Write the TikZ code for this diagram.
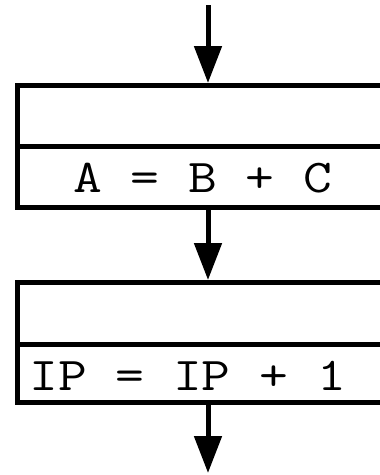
\documentclass[tikz,border=0pt]{standalone}
\usepackage{fontspec}
\setmonofont{Latin Modern Mono}[FakeStretch=1.19]
\usetikzlibrary{arrows.meta}
\begin{document}
\begin{tikzpicture}[x=1pt,y=-1pt,
  cell/.style={draw,line width=5pt,minimum width=420pt,inner sep=0pt,anchor=north west},
  flow/.style={line width=5pt,-{Triangle[width=27pt,length=37pt]}},
  code/.style={font=\ttfamily\fontsize{47}{50}\selectfont,inner sep=0pt,anchor=base west}]
\useasboundingbox (0,0) rectangle (380,475);
\clip (0,0) rectangle (380,475);
\node[cell,minimum height=61pt] (c1a) at (14.5,83) {};
\node[cell,minimum height=60.5pt] (c1b) at (14.5,144) {};
\node[cell,minimum height=62pt] (c2a) at (14.5,280) {};
\node[cell,minimum height=58pt] (c2b) at (14.5,342) {};
\node[code] (t1) at (73,192) {A = B + C};
\node[code] (t2) at (29,390) {IP = IP + 1};
\coordinate (start) at (208,5);
\coordinate (end) at (208,473);
\draw[flow] (start) -- (start |- c1a.north);
\draw[flow] (start |- c1b.south) -- (start |- c2a.north);
\draw[flow] (start |- c2b.south) -- (end);
\end{tikzpicture}
\end{document}
